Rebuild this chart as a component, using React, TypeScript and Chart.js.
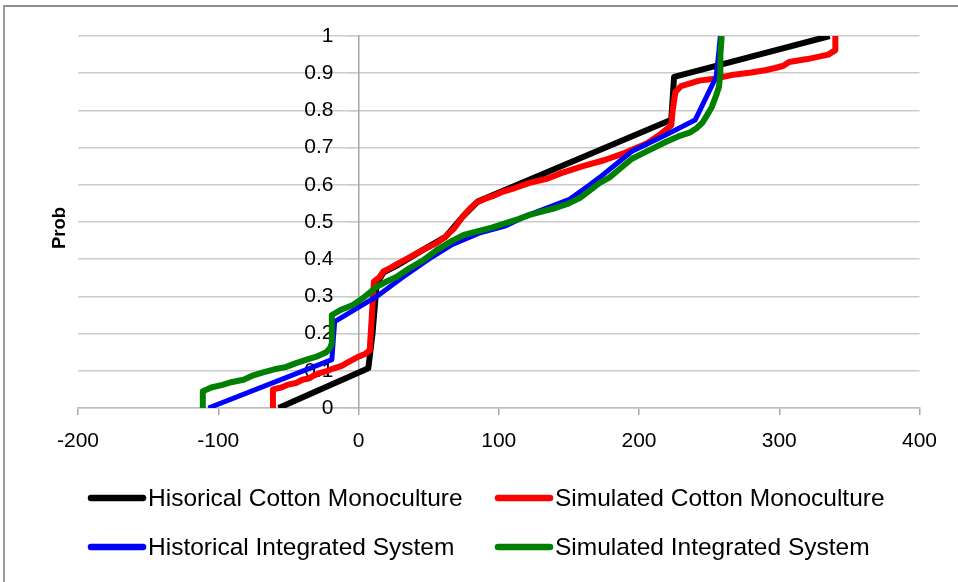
import React, { useEffect, useRef } from "react";
import { Chart, registerables } from "chart.js";

Chart.register(...registerables);

const FONT = "'Liberation Sans', Arial, sans-serif";

const seriesLabels = [
  "Hisorical Cotton Monoculture",
  "Simulated Cotton Monoculture",
  "Historical Integrated System",
  "Simulated Integrated System",
];
const seriesColors = ["#000000", "#ff0000", "#0000ff", "#008000"];
const seriesWidths = [6, 6, 5, 6];

const yTitle = "Prob";
const xTickValues = [-200, -100, 0, 100, 200, 300, 400];
const yTickLabels = ["0", "0.1", "0.2", "0.3", "0.4", "0.5", "0.6", "0.7", "0.8", "0.9", "1"];

// Hisorical Cotton Monoculture
const histMonoX = [-57, 7, 10, 13, 18, 27, 46, 62, 74, 85, 223, 225, 336, 336];
const histMonoY = [0, 0.107, 0.2, 0.335, 0.365, 0.382, 0.425, 0.46, 0.513, 0.555, 0.775, 0.89, 1.0, 1.0];

// Simulated Cotton Monoculture
const simMonoX = [
  -61, -61, -55, -50, -44, -40, -35, -32, -26, -22, -18, -12, -6, 0, 5, 8, 11,
  15, 18, 22, 27, 35, 46, 55, 62, 68, 74, 80, 84, 90, 96, 102, 112, 122, 135,
  145, 160, 175, 190, 205, 215, 223, 224, 226, 230, 243, 255, 266, 280, 290,
  297, 303, 307, 320, 335, 340, 340,
];
const simMonoY = [
  0, 0.05, 0.055, 0.063, 0.068, 0.076, 0.08, 0.087, 0.096, 0.1, 0.106, 0.113,
  0.126, 0.138, 0.146, 0.155, 0.34, 0.352, 0.368, 0.375, 0.386, 0.402, 0.425,
  0.442, 0.46, 0.482, 0.513, 0.538, 0.552, 0.562, 0.57, 0.58, 0.592, 0.605,
  0.617, 0.632, 0.65, 0.666, 0.686, 0.71, 0.735, 0.76, 0.8, 0.85, 0.865, 0.88,
  0.886, 0.895, 0.902, 0.908, 0.914, 0.92, 0.93, 0.938, 0.95, 0.962, 1.0,
];

// Historical Integrated System
const histIntX = [-107, -19, -17, 13, 31, 50, 67, 86, 105, 122, 150, 165, 172, 195, 219, 240, 255, 257, 258];
const histIntY = [0, 0.13, 0.232, 0.3, 0.35, 0.4, 0.44, 0.47, 0.49, 0.52, 0.56, 0.6, 0.62, 0.69, 0.734, 0.774, 0.89, 0.96, 1.0];

// Simulated Integrated System
const simIntX = [
  -111, -111, -105, -97, -90, -82, -75, -68, -60, -52, -45, -37, -30, -23, -20,
  -19, -19, -12, -4, 3, 8, 13, 20, 27, 36, 46, 56, 67, 75, 84, 95, 105, 114,
  122, 130, 140, 150, 158, 165, 172, 179, 187, 195, 203, 211, 219, 228, 236,
  241, 245, 249, 252, 255, 257, 258, 258, 259,
];
const simIntY = [
  0, 0.045, 0.055, 0.062, 0.07, 0.076, 0.088, 0.096, 0.104, 0.11, 0.12, 0.13,
  0.138, 0.15, 0.163, 0.175, 0.25, 0.265, 0.277, 0.295, 0.31, 0.326, 0.34,
  0.352, 0.375, 0.397, 0.425, 0.45, 0.465, 0.474, 0.485, 0.497, 0.508, 0.519,
  0.527, 0.537, 0.55, 0.565, 0.585, 0.605, 0.62, 0.645, 0.67, 0.685, 0.7,
  0.715, 0.73, 0.74, 0.752, 0.766, 0.79, 0.81, 0.84, 0.863, 0.9, 0.95, 1.0,
];

const seriesX = [histMonoX, simMonoX, histIntX, simIntX];
const seriesY = [histMonoY, simMonoY, histIntY, simIntY];

const overlayPlugin = {
  id: "overlay",
  afterDraw(chart: any) {
    const ctx = chart.ctx as CanvasRenderingContext2D;
    const area = chart.chartArea;
    ctx.save();
    // y axis title
    ctx.save();
    ctx.translate(area.left - 18.5, (area.top + area.bottom) / 2 + 6);
    ctx.rotate(-Math.PI / 2);
    ctx.font = `bold 18.5px ${FONT}`;
    ctx.fillStyle = "#000";
    ctx.textAlign = "center";
    ctx.textBaseline = "middle";
    ctx.fillText(yTitle, 0, 0);
    ctx.restore();
    // legend (2 columns x 2 rows)
    const colX = [area.left + 10, area.left + 417];
    const rowY = [area.bottom + 90, area.bottom + 139];
    ctx.font = `24.5px ${FONT}`;
    ctx.textAlign = "left";
    ctx.textBaseline = "middle";
    chart.data.datasets.forEach((ds: any, i: number) => {
      const cx = colX[i % 2];
      const cy = rowY[Math.floor(i / 2)];
      ctx.beginPath();
      ctx.lineCap = "round";
      ctx.lineWidth = 6.5;
      ctx.strokeStyle = ds.borderColor;
      ctx.moveTo(cx + 3, cy);
      ctx.lineTo(cx + 55, cy);
      ctx.stroke();
      ctx.fillStyle = "#000";
      ctx.fillText(ds.label, cx + 60, cy + 1);
    });
    ctx.restore();
  },
};

export default function App() {
  const canvasRef = useRef<HTMLCanvasElement | null>(null);

  useEffect(() => {
    const canvas = canvasRef.current;
    if (!canvas) return;
    const datasets = seriesLabels.map((label, i) => ({
      label,
      data: seriesX[i].map((x, j) => ({ x, y: seriesY[i][j] })),
      showLine: true,
      borderColor: seriesColors[i],
      backgroundColor: seriesColors[i],
      borderWidth: seriesWidths[i],
      borderJoinStyle: "round" as const,
      borderCapStyle: "butt" as const,
      pointRadius: 0,
      pointHoverRadius: 0,
      tension: 0,
      fill: false,
      order: 4 - i,
      xAxisID: "x",
      yAxisID: "y",
    }));
    const chart = new Chart(canvas, {
      type: "scatter",
      data: { datasets },
      options: {
        animation: false,
        responsive: false,
        events: [],
        layout: { padding: { left: 78, right: 38.5, top: 36, bottom: 126 } },
        plugins: {
          legend: { display: false },
          tooltip: { enabled: false },
        },
        scales: {
          x: {
            type: "linear",
            min: -200,
            max: 400,
            afterBuildTicks: (scale: any) => {
              scale.ticks = xTickValues.map((v) => ({ value: v }));
            },
            ticks: {
              color: "#000",
              font: { family: FONT, size: 21 },
              padding: 14,
              maxRotation: 0,
              autoSkip: false,
              callback: (v: any) => String(v),
            },
            grid: {
              display: true,
              drawOnChartArea: false,
              drawTicks: true,
              tickLength: 7,
              color: "#a6a6a6",
              lineWidth: 1.5,
            },
            border: { display: true, color: "#bdbdbd", width: 1.5 },
            afterFit: (scale: any) => {
              scale.height = 48;
            },
          },
          y: {
            type: "linear",
            min: 0,
            max: 1,
            position: { x: 0 } as any,
            ticks: { stepSize: 0.1, display: false },
            grid: {
              color: "#cccccc",
              lineWidth: 1.5,
              drawTicks: true,
              tickLength: 10,
            },
            border: { display: true, color: "#a6a6a6", width: 1.5 },
          },
          yLabels: {
            type: "linear",
            axis: "y",
            min: 0,
            max: 1,
            position: { x: -17.8 } as any,
            ticks: {
              stepSize: 0.1,
              color: "#000",
              font: { family: FONT, size: 21 },
              autoSkip: false,
              callback: (_v: any, i: number) => yTickLabels[i],
            },
            grid: { display: false, drawTicks: false },
            border: { display: false },
          } as any,
        },
      },
      plugins: [overlayPlugin],
    });
    return () => chart.destroy();
  }, []);

  return (
    <div
      style={{
        position: "fixed",
        left: 0,
        top: 0,
        width: 958,
        height: 582,
        background: "#fff",
        overflow: "hidden",
      }}
    >
      <canvas ref={canvasRef} width={958} height={582} style={{ display: "block" }} />
      <div style={{ position: "absolute", left: 3, top: 5, width: 955, height: 2, background: "#8c8c8c" }} />
      <div style={{ position: "absolute", left: 3, top: 5, width: 2, height: 577, background: "#9a9a9a" }} />
    </div>
  );
}
